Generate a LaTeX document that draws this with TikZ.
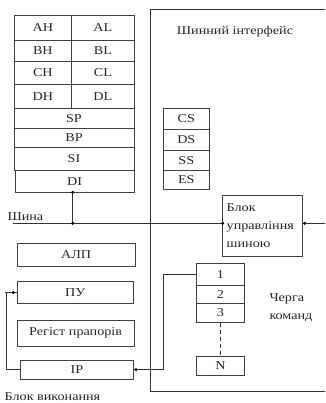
\documentclass[tikz,border=0pt]{standalone}
\usepackage{fontspec}
\setmainfont{Liberation Serif}[FakeStretch=1.18]
\begin{document}
\begin{tikzpicture}[x=1pt,y=-1pt,
  every node/.style={font=\fontsize{12}{18}\selectfont, text=black!85},
  box/.style={draw=black!75, line width=0.8pt, rectangle, inner sep=0pt, outer sep=0pt},
  wire/.style={draw=black!80, line width=0.8pt},
  dot/.style={circle, fill=black, inner sep=0pt, minimum size=3.4pt},
  lbl/.style={inner sep=0pt}]
\useasboundingbox (0,0) rectangle (325,403);
\fill[white] (0,0) rectangle (325,403);
% general-purpose registers
\node[box, minimum width=57.7, minimum height=25.7] (AH) at (42.85,27.85) {AH};
\node[box, minimum width=62.3, minimum height=25.7] (AL) at (102.85,27.85) {AL};
\node[box, minimum width=57.7, minimum height=20.3] (BH) at (42.85,50.85) {BH};
\node[box, minimum width=62.3, minimum height=20.3] (BL) at (102.85,50.85) {BL};
\node[box, minimum width=57.7, minimum height=23.7] (CH) at (42.85,72.85) {CH};
\node[box, minimum width=62.3, minimum height=23.7] (CL) at (102.85,72.85) {CL};
\node[box, minimum width=57.7, minimum height=23.6] (DH) at (42.85,96.5) {DH};
\node[box, minimum width=62.3, minimum height=23.6] (DL) at (102.85,96.5) {DL};
\node[box, minimum width=120, minimum height=20] (SP) at (74,118.3) {SP};
\node[box, minimum width=120, minimum height=19.4] (BP) at (74,138) {BP};
\node[box, minimum width=120, minimum height=22.3] (SI) at (74,158.85) {SI};
\node[box, minimum width=119, minimum height=22.3] (DI) at (74.5,181.15) {DI};
% bus interface
\draw[wire] (325,9) -- (150.7,9) -- (150.7,391.7) -- (325,391.7);
\node[lbl] (bi) at (235,31.7) {Шинний інтерфейс};
\node[box, minimum width=46, minimum height=21] (CS) at (186.3,118.8) {CS};
\node[box, minimum width=46, minimum height=20.7] (DS) at (186.3,139.65) {DS};
\node[box, minimum width=46, minimum height=20.7] (SS) at (186.3,160.35) {SS};
\node[box, minimum width=46, minimum height=18.6] (ES) at (186.3,180) {ES};
\node[box, minimum width=80, minimum height=61.7, text width=72, inner xsep=4, align=left] (BIU) at (262.7,225.85) {Блок\\управління\\шиною};
% bus
\node[lbl, anchor=west] (bus) at (7.3,216.2) {Шина};
\coordinate (busL) at (12.7,223.3);
\coordinate (busR) at (325,223.3);
\coordinate (diB) at (72.7,192.3);
\draw[wire] (busL) -- (busL -| BIU.west);
\draw[wire] (BIU.east |- busR) -- (busR);
\draw[wire] (diB) -- (diB |- busL);
\node[dot] at (diB) {};
\node[dot] at (diB |- busL) {};
\node[dot] at (busL -| BIU.west) {};
\node[dot] at ([xshift=2]BIU.east |- busR) {};
% execution unit
\node[box, minimum width=117.7, minimum height=22.7] (ALU) at (76.15,254.65) {АЛП};
\node[box, minimum width=116, minimum height=21.6] (CU) at (75.3,292.5) {ПУ};
\node[box, minimum width=116.7, minimum height=26] (FL) at (75.65,333) {Регіст прапорів};
\node[box, minimum width=112.6, minimum height=19.3] (IP) at (77,369.65) {IP};
\node[lbl, anchor=west] (eu) at (4.5,396.5) {Блок виконання};
% IP -> PU
\coordinate (pl) at (6.7,292.5);
\draw[wire] (IP.west) -| (pl) -- (CU.west);
\draw[wire] (pl) -- ++(-1.7,0);
\node[dot] at ([xshift=-4]CU.west) {};
% instruction queue
\node[box, minimum width=47.6, minimum height=21.7] (Q1) at (220.5,274.15) {1};
\node[box, minimum width=47.6, minimum height=18.3] (Q2) at (220.5,294.15) {2};
\node[box, minimum width=47.6, minimum height=19.4] (Q3) at (220.5,313) {3};
\node[box, minimum width=47.6, minimum height=18.3] (QN) at (220.5,365.85) {N};
\draw[wire, dashed, dash pattern=on 4pt off 3pt] (Q3.south) -- (QN.north);
\node[lbl, anchor=west, align=left] (ql) at (269.3,307.5) {Черга\\команд};
% IP -> queue
\coordinate (qc) at (163.3,369.65);
\draw[wire] (IP.east) -- (qc) |- (Q1.west);
\node[dot] at ([xshift=2.7]IP.east) {};
\end{tikzpicture}
\end{document}
